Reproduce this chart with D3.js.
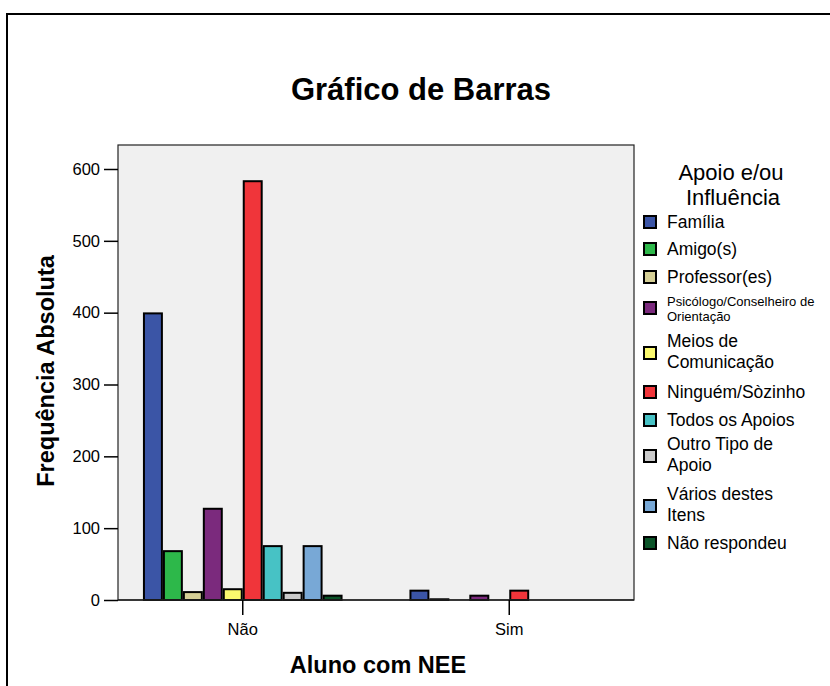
<!DOCTYPE html>
<html><head><meta charset="utf-8">
<script src="https://cdn.jsdelivr.net/npm/d3@7"></script>
<style>body{margin:0;background:#fff;}svg{display:block;font-family:"Liberation Sans",Arial,sans-serif;}</style>
</head><body>
<script>
const groups = ["Não", "Sim"];
const series = ["Família","Amigo(s)","Professor(es)","Psicólogo/Conselheiro de Orientação","Meios de Comunicação","Ninguém/Sòzinho","Todos os Apoios","Outro Tipo de Apoio","Vários destes Itens","Não respondeu"];
const valuesNao = [399, 68, 11, 127, 15, 583, 75, 10, 75, 6];
const valuesSim = [13, 1, 0, 6, 0, 13, 0, 0, 0, 0];
const colors = ["#3B55A6","#2DB84A","#D5CF96","#7B2A7D","#FAF86E","#F0353A","#47C2C5","#CACACA","#78A8D6","#0A5328"];
const yTicks = [0,100,200,300,400,500,600];
const legendLines = [["Família"],["Amigo(s)"],["Professor(es)"],["Psicólogo/Conselheiro de","Orientação"],["Meios de","Comunicação"],["Ninguém/Sòzinho"],["Todos os Apoios"],["Outro Tipo de","Apoio"],["Vários destes","Itens"],["Não respondeu"]];

const W = 830, H = 686;
const FF = "Liberation Sans, Arial, sans-serif";
const svg = d3.select("body").append("svg").attr("width", W).attr("height", H);

// outer frame
svg.append("rect").attr("x",7).attr("y",14).attr("width",W+20).attr("height",H+20)
  .attr("fill","none").attr("stroke","#000").attr("stroke-width",2);

const L = 118, R = 634, T = 145, B = 600;
const y = d3.scaleLinear().domain([0,600]).range([B, 169]);
const x0 = d3.scaleBand().domain(groups).range([L,R]).paddingInner(0.251).paddingOuter(0.0936);
const x1 = d3.scaleBand().domain(series).range([0, x0.bandwidth()]);

svg.append("rect").attr("x",L).attr("y",T).attr("width",R-L).attr("height",B-T)
  .attr("fill","#F0F0F0").attr("stroke","#222").attr("stroke-width",1.2);

const data = groups.map((g,i)=>({g, vals: (i===0?valuesNao:valuesSim)}));
const gg = svg.append("g").selectAll("g").data(data).join("g")
  .attr("transform", d=>`translate(${x0(d.g)},0)`);
gg.selectAll("rect").data(d=>d.vals.map((v,j)=>({v,s:series[j],c:colors[j]})).filter(d=>d.v>0))
  .join("rect")
  .attr("x", d=>x1(d.s)+1).attr("width", x1.bandwidth()-2)
  .attr("y", d=>y(d.v)).attr("height", d=>B - y(d.v))
  .attr("fill", d=>d.c).attr("stroke","#000").attr("stroke-width",2);

svg.append("line").attr("x1",L).attr("x2",R).attr("y1",B).attr("y2",B).attr("stroke","#222").attr("stroke-width",1.5);

// y axis
const ya = d3.axisLeft(y).tickValues(yTicks).tickSize(14).tickPadding(4);
const yg = svg.append("g").attr("transform",`translate(${L},0)`).call(ya);
yg.attr("font-family",FF);
yg.select(".domain").remove();
yg.selectAll("line").attr("stroke","#000").attr("stroke-width",1.5);
yg.selectAll("text").attr("font-size",16.5).attr("fill","#000");

// x axis
const xa = d3.axisBottom(x0).tickSize(15).tickPadding(8);
const xg = svg.append("g").attr("transform",`translate(0,${B})`).call(xa);
xg.attr("font-family",FF);
xg.select(".domain").remove();
xg.selectAll("line").attr("stroke","#000").attr("stroke-width",1.5);
xg.selectAll("text").attr("font-size",16.5).attr("fill","#000");

// titles
svg.append("text").attr("x",421).attr("y",100).attr("text-anchor","middle")
  .attr("font-size",31).attr("font-weight","bold").text("Gráfico de Barras");
svg.append("text").attr("x",378).attr("y",673).attr("text-anchor","middle")
  .attr("font-size",23.5).attr("font-weight","bold").text("Aluno com NEE");
svg.append("text").attr("transform","translate(54,371) rotate(-90)").attr("text-anchor","middle")
  .attr("font-size",23.5).attr("font-weight","bold").text("Frequência Absoluta");

// legend
const lg = svg.append("g");
lg.append("text").attr("x",731).attr("y",180).attr("text-anchor","middle").attr("font-size",22).text("Apoio e/ou");
lg.append("text").attr("x",733).attr("y",205).attr("text-anchor","middle").attr("font-size",22).text("Influência");
const itemY = [222,249,277,308,353,392,420,456,506,543];
legendLines.forEach((lines,i)=>{
  const cy = itemY[i];
  lg.append("rect").attr("x",644).attr("y",cy-6).attr("width",12).attr("height",12)
    .attr("fill",colors[i]).attr("stroke","#000").attr("stroke-width",2);
  const small = i===3;
  const fs = small ? 13 : 17.5;
  if (lines.length === 1) {
    lg.append("text").attr("x",667).attr("y", cy + 6).attr("font-size",fs).text(lines[0]);
  } else {
    const b0 = small ? cy - 2 : cy - 6;
    const lh = small ? 15 : 21;
    lines.forEach((t,k)=>{
      lg.append("text").attr("x",667).attr("y", b0 + k*lh).attr("font-size",fs).text(t);
    });
  }
});
</script>
</body></html>
